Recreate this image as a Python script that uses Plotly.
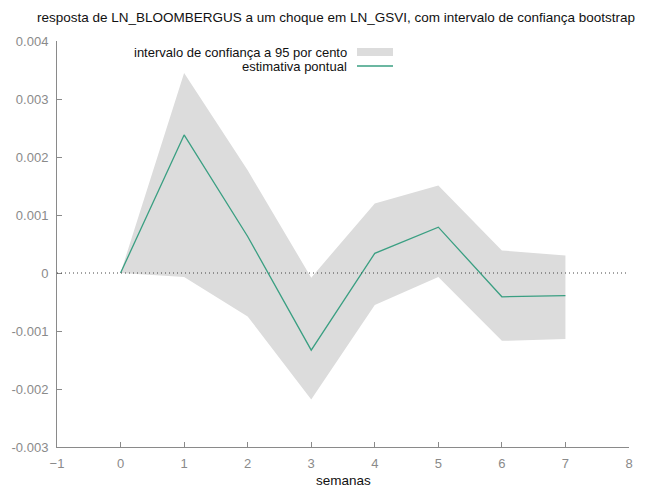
import plotly.graph_objects as go

weeks = [0, 1, 2, 3, 4, 5, 6, 7]
point_estimate = [0.0, 0.00238, 0.00063, -0.00133, 0.00034, 0.00079, -0.00041, -0.00039]
upper_95 = [0.0, 0.00345, 0.00177, -0.00008, 0.00120, 0.00151, 0.00039, 0.00030]
lower_95 = [0.0, -0.00007, -0.00075, -0.00218, -0.00055, -0.00007, -0.00117, -0.00114]

title_text = "resposta de LN_BLOOMBERGUS a um choque em LN_GSVI, com intervalo de confiança bootstrap"
band_label = "intervalo de confiança a 95 por cento"
line_label = "estimativa pontual"
x_title = "semanas"

x_ticks = [-1, 0, 1, 2, 3, 4, 5, 6, 7, 8]
y_ticks = [-0.003, -0.002, -0.001, 0, 0.001, 0.002, 0.003, 0.004]
y_tick_text = ["-0.003", "-0.002", "-0.001", "0", "0.001", "0.002", "0.003", "0.004"]

band_color = "#dcdcdc"
line_color = "#3a9f82"
axis_color = "#8a8a8a"
font_family = "Liberation Sans, Arial, sans-serif"

L, R, T, B = 57, 629, 41, 447
PW, PH = R - L, B - T

fig = go.Figure()
fig.add_trace(go.Scatter(x=weeks, y=lower_95, mode="lines", line=dict(width=0),
                         showlegend=False, hoverinfo="skip"))
fig.add_trace(go.Scatter(x=weeks, y=upper_95, mode="lines", line=dict(width=0),
                         fill="tonexty", fillcolor=band_color, showlegend=False))
fig.add_trace(go.Scatter(x=weeks, y=point_estimate, mode="lines",
                         line=dict(color=line_color, width=1.3), showlegend=False))

# dotted zero line
fig.add_shape(type="line", xref="paper", x0=0, x1=1, yref="y", y0=0, y1=0,
              line=dict(color="#444444", width=1, dash="1px,3px"), layer="above")

# gnuplot-style legend (text right-aligned, sample on the right)
lx_text = (348 - L) / PW
ls0 = (357 - L) / PW
ls1 = (393 - L) / PW
ly1 = 1 - (52 - T) / PH
ly2 = 1 - (66 - T) / PH
legend_font = dict(size=13, color="#111111", family=font_family)
fig.add_annotation(xref="paper", yref="paper", x=lx_text, y=ly1, text=band_label,
                   showarrow=False, xanchor="right", yanchor="middle", borderpad=0,
                   font=legend_font)
fig.add_annotation(xref="paper", yref="paper", x=lx_text, y=ly2, text=line_label,
                   showarrow=False, xanchor="right", yanchor="middle", borderpad=0,
                   font=legend_font)
fig.add_shape(type="rect", xref="paper", yref="paper", x0=ls0, x1=ls1,
              y0=ly1 - 4 / PH, y1=ly1 + 4 / PH, fillcolor=band_color, line=dict(width=0))
fig.add_shape(type="line", xref="paper", yref="paper", x0=ls0, x1=ls1,
              y0=ly2, y1=ly2, line=dict(color=line_color, width=1.3))

fig.add_annotation(xref="paper", yref="paper", x=(336 - L) / PW, y=1 + (T - 18) / PH,
                   text=title_text, showarrow=False, xanchor="center", yanchor="middle",
                   font=dict(size=13.5, color="#111111", family=font_family))

fig.add_annotation(xref="paper", yref="paper", x=(343 - L) / PW, y=-(480 - B) / PH,
                   text=x_title, showarrow=False, xanchor="center", yanchor="middle",
                   borderpad=0,
                   font=dict(size=13.5, color="#111111", family=font_family))

fig.update_layout(
    width=648, height=490,
    margin=dict(l=L, r=648 - R, t=T, b=490 - B, autoexpand=False),
    paper_bgcolor="white", plot_bgcolor="white",
    font=dict(family=font_family, size=13, color=axis_color),
    xaxis=dict(range=[-1, 8], tickvals=x_ticks, ticks="inside", ticklen=5,
               tickcolor=axis_color, showline=True, linecolor=axis_color, linewidth=1,
               showgrid=False, zeroline=False, mirror=False, ticklabelstandoff=4,
               automargin=False,
               tickfont=dict(size=13, color=axis_color)),
    yaxis=dict(range=[-0.003, 0.004], tickvals=y_ticks, ticktext=y_tick_text,
               ticks="inside", ticklen=5, tickcolor=axis_color, showline=True,
               linecolor=axis_color, linewidth=1, showgrid=False, zeroline=False,
               ticklabelstandoff=5, automargin=False,
               tickfont=dict(size=13, color=axis_color)),
)

fig.write_html("out.html")
